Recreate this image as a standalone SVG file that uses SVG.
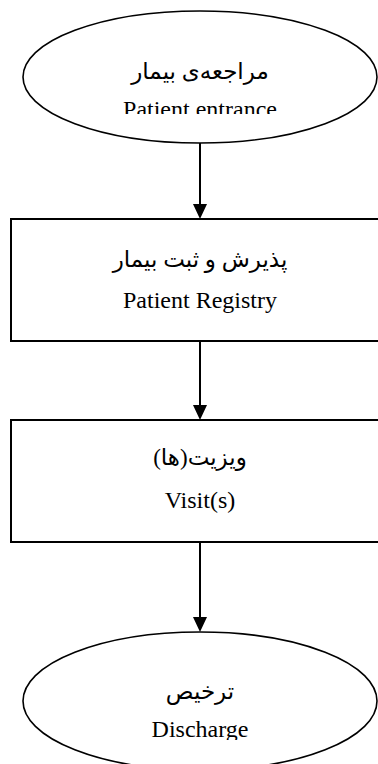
<svg xmlns="http://www.w3.org/2000/svg" width="378" height="764" viewBox="0 0 378 764">
<style>
.shape{fill:#fff;stroke:#000;stroke-width:1.6}
.box{fill:#fff;stroke:#000;stroke-width:2}
.en{font-family:"Liberation Serif","Times New Roman",serif;font-size:24px;fill:#000;text-anchor:middle}
.fa{font-family:"Liberation Serif","DejaVu Sans","Noto Sans",serif;font-size:23px;fill:#000;text-anchor:middle;direction:rtl}
.conn{stroke:#000;stroke-width:2;fill:none}
.head{fill:#000}
</style>
<defs>
<clipPath id="c1"><rect x="0" y="0" width="378" height="114"/></clipPath>
<clipPath id="c4"><rect x="0" y="600" width="378" height="140"/></clipPath>
</defs>
<g id="connectors">
<line class="conn" x1="200" y1="143" x2="200" y2="205"/>
<path class="head" d="M193,204 L207,204 L200,219 Z"/>
<line class="conn" x1="200" y1="341" x2="200" y2="406"/>
<path class="head" d="M193,405 L207,405 L200,420 Z"/>
<line class="conn" x1="200" y1="542" x2="200" y2="618"/>
<path class="head" d="M193,617 L207,617 L200,632 Z"/>
</g>
<g id="node-entrance">
<ellipse class="shape" cx="200" cy="77" rx="177" ry="66"/>
<text class="fa" x="200" y="79">مراجعه‌ی بیمار</text>
<text class="en" x="200" y="117" clip-path="url(#c1)">Patient entrance</text>
</g>
<g id="node-registry">
<rect class="box" x="11" y="219" width="380" height="122"/>
<text class="fa" x="200" y="267">پذیرش و ثبت بیمار</text>
<text class="en" x="200" y="308">Patient Registry</text>
</g>
<g id="node-visits">
<rect class="box" x="11" y="420" width="380" height="122"/>
<text class="fa" x="200" y="465">ویزیت(ها)</text>
<text class="en" x="200" y="508">Visit(s)</text>
</g>
<g id="node-discharge">
<ellipse class="shape" cx="200" cy="701" rx="177" ry="69"/>
<text class="fa" x="200" y="699">ترخیص</text>
<text class="en" x="200" y="737" clip-path="url(#c4)">Discharge</text>
</g>
</svg>
